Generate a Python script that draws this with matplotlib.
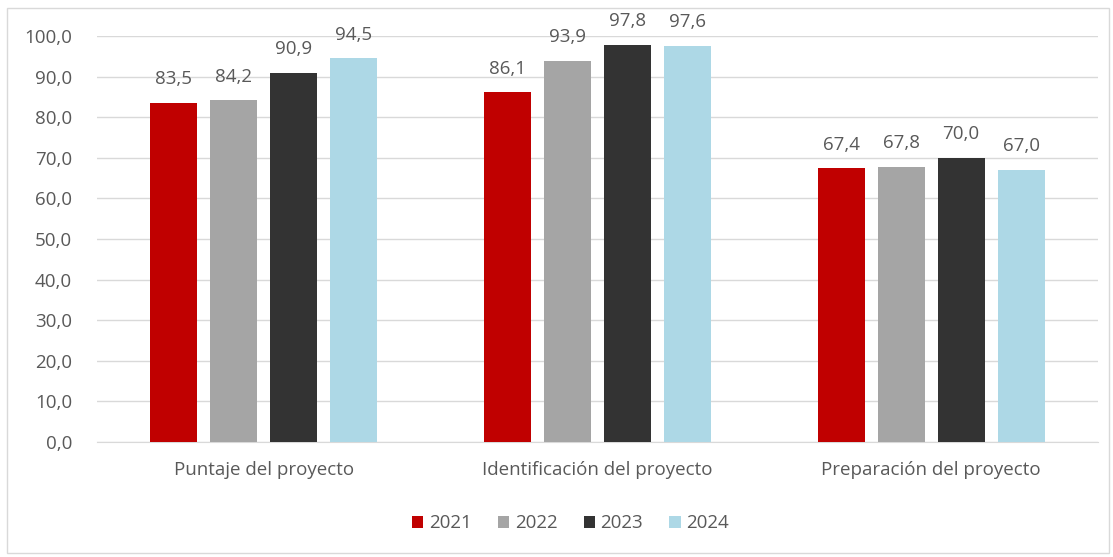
import numpy as np
import matplotlib.pyplot as plt
from matplotlib.patches import Rectangle

plt.rcParams['font.family'] = ['Open Sans', 'DejaVu Sans']

categorias = ['Puntaje del proyecto', 'Identificación del proyecto', 'Preparación del proyecto']
anios = ['2021', '2022', '2023', '2024']
v2021 = [83.5, 86.1, 67.4]
v2022 = [84.2, 93.9, 67.8]
v2023 = [90.9, 97.8, 70.0]
v2024 = [94.5, 97.6, 67.0]
series = [v2021, v2022, v2023, v2024]
colores = ['#C00000', '#A5A5A5', '#333333', '#ADD8E6']

txt = '#595959'
fs = 13.5
fig = plt.figure(figsize=(11.13, 5.57), dpi=100)
ax = fig.add_axes([0.0872, 0.2065, 0.8993, 0.7289])

x = np.arange(len(categorias))
paso = 0.18
ancho = 0.141
for i, (vals, c) in enumerate(zip(series, colores)):
    pos = x + (i - 1.5) * paso
    bars = ax.bar(pos, vals, ancho, color=c, label=anios[i], zorder=3)
    for b, v in zip(bars, vals):
        ax.text(b.get_x() + b.get_width() / 2, v + 3.6, f'{v:.1f}'.replace('.', ','),
                ha='center', va='bottom', fontsize=fs, color=txt)

ax.set_xlim(-0.5, 2.5)
ax.set_ylim(0, 100)
ax.set_yticks(np.arange(0, 101, 10))
ax.set_yticklabels([f'{v:.1f}'.replace('.', ',') for v in np.arange(0, 101, 10)])
ax.set_xticks(x)
ax.set_xticklabels(categorias)
ax.tick_params(axis='both', length=0, labelsize=fs, colors=txt)
ax.tick_params(axis='y', pad=18)
ax.tick_params(axis='x', pad=14)
ax.grid(axis='y', color='#D9D9D9', linewidth=1, zorder=0)
for s in ['top', 'right', 'left']:
    ax.spines[s].set_visible(False)
ax.spines['bottom'].set_color('#D9D9D9')

leg = ax.legend(loc='center', bbox_to_anchor=(0.473, -0.2), ncol=4, frameon=False,
                fontsize=fs, handlelength=0.6, handleheight=0.6, handletextpad=0.3,
                columnspacing=1.4)
for t in leg.get_texts():
    t.set_color(txt)

fig.patches.append(Rectangle((0.0063, 0.008), 0.99, 0.977, transform=fig.transFigure,
                             fill=False, edgecolor='#D9D9D9', linewidth=1))

fig.savefig('out.png', dpi=100)
